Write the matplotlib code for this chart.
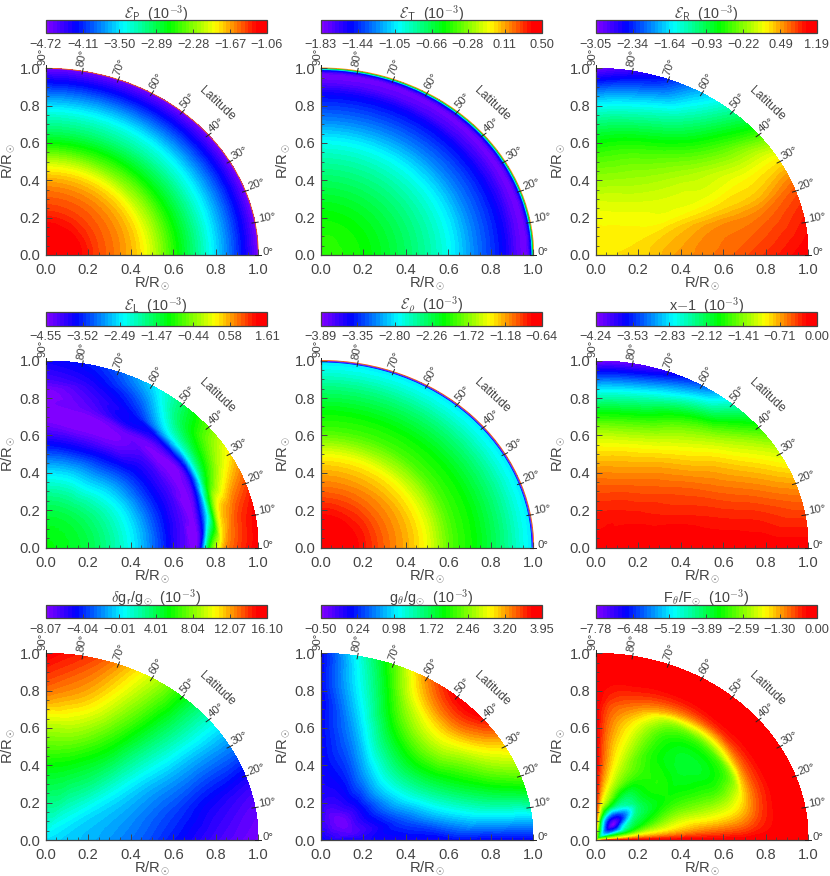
import numpy as np
import matplotlib
matplotlib.use('Agg')
import matplotlib.pyplot as plt
import matplotlib.tri as mtri
from matplotlib.cm import ScalarMappable
from matplotlib.colors import BoundaryNorm, LinearSegmentedColormap
from matplotlib.patches import Arc
from matplotlib.ticker import MultipleLocator

plt.rcParams['font.family'] = ['Liberation Sans', 'DejaVu Sans']
plt.rcParams['mathtext.fontset'] = 'cm'

# values, in units of 10^-3 (rows = latitude, columns = radius)
ep_title = r'$\mathcal{E}_{\mathsf{P}}$  (10$^{-3}$)'
ep_ticks = [-4.72, -4.11, -3.50, -2.89, -2.28, -1.67, -1.06]
ep_r = [0, .15, .25, .35, .45, .62, .78, .93, 1]
ep_lat = [0, 90]
ep_vals = [[-1.17, -1.21, -1.43, -1.61, -1.87, -2.67, -3.44, -4.24, -4.68],
           [-1.17, -1.21, -1.39, -1.57, -1.87, -2.78, -3.44, -4.24, -4.65]]
ep_rim = [(1.0, -1.5)]

et_title = r'$\mathcal{E}_{\mathsf{T}}$  (10$^{-3}$)'
et_ticks = [-1.83, -1.44, -1.05, -0.66, -0.28, 0.11, 0.50]
et_r = [0, .2, .4, .6, .72, .86, .95, .98, 1]
et_lat = [0, 90]
et_vals = [[-.43, -.52, -.71, -.99, -1.25, -1.53, -1.76, -1.69, -1.30],
           [-.43, -.52, -.71, -.99, -1.25, -1.53, -1.76, -1.69, -1.30]]
et_rim = [(.994, -1.01), (.998, -.52), (1.002, .15)]

er_title = r'$\mathcal{E}_{\mathsf{R}}$  (10$^{-3}$)'
er_ticks = [-3.05, -2.34, -1.64, -0.93, -0.22, 0.49, 1.19]
er_r = [0, .2, .4, .6, .8, 1]
er_lat = [0, 15, 22, 30, 45, 60, 75, 90]
er_vals = [[.26, .30, .51, .66, .85, 1.06],
           [.26, .28, .41, .55, .62, .85],
           [.26, .26, .32, .34, .38, .66],
           [.26, .24, .17, .14, .19, .26],
           [.26, .21, .07, -.08, -.42, -.85],
           [.26, .19, -.04, -.38, -1.06, -1.78],
           [.26, .17, -.12, -.55, -1.40, -2.58],
           [.26, .17, -.17, -.68, -1.57, -2.97]]
er_rim = []

el_title = r'$\mathcal{E}_{\mathsf{L}}$  (10$^{-3}$)'
el_ticks = [-4.55, -3.52, -2.49, -1.47, -0.44, 0.58, 1.61]
el_r = [0, .2, .4, .55, .65, .72, .77, .83, .9, 1]
el_lat = [0, 15, 30, 45, 60, 75, 90]
el_vals = [[-1.10, -1.47, -2.39, -3.50, -4.24, -4.24, -1.16, .38, .99, 1.43],
           [-1.10, -1.47, -2.39, -3.50, -4.18, -4.43, -3.00, -.11, .69, 1.24],
           [-1.10, -1.47, -2.39, -3.50, -4.12, -4.49, -4.06, -1.80, -.61, .25],
           [-1.10, -1.47, -2.46, -3.50, -4.06, -4.49, -4.06, -2.52, -1.59, -1.10],
           [-1.10, -1.47, -2.58, -3.69, -4.43, -4.37, -3.81, -3.63, -3.19, -2.58],
           [-1.10, -1.47, -2.52, -3.75, -4.49, -4.55, -4.30, -4.12, -3.87, -3.50],
           [-1.10, -1.47, -2.52, -3.69, -4.37, -4.55, -4.49, -4.55, -4.18, -3.81]]
el_rim = []

erho_title = r'$\mathcal{E}_{\rho}$  (10$^{-3}$)'
erho_ticks = [-3.89, -3.35, -2.80, -2.26, -1.72, -1.18, -0.64]
erho_r = [0, .15, .3, .48, .62, .72, .85, .95, 1]
erho_lat = [0, 90]
erho_vals = [[-.74, -.77, -1.03, -1.39, -1.88, -2.07, -2.39, -2.69, -2.82],
             [-.74, -.77, -1.03, -1.39, -1.88, -2.07, -2.39, -2.69, -2.82]]
erho_rim = [(.994, -3.47), (.998, -3.85), (1.002, -.97)]

x1_title = r'x$-$1  (10$^{-3}$)'
x1_ticks = [-4.24, -3.53, -2.83, -2.12, -1.41, -0.71, 0.00]
x1_r = [0, .2, .4, .6, .8, 1]
x1_lat = [0, 15, 30, 45, 60, 75, 90]
x1_vals = [[-.17, -.13, -.13, -.13, -.13, -.13],
           [-.17, -.15, -.19, -.28, -.38, -.53],
           [-.17, -.19, -.32, -.49, -.76, -1.14],
           [-.17, -.23, -.42, -.74, -1.23, -2.12],
           [-.17, -.25, -.53, -.98, -1.78, -3.31],
           [-.17, -.28, -.61, -1.17, -2.29, -3.99],
           [-.17, -.30, -.64, -1.23, -2.46, -4.20]]
x1_rim = []

dg_title = r'$\delta$g$_{\mathsf{r}}$/g$_{\odot}$  (10$^{-3}$)'
dg_ticks = [-8.07, -4.04, -0.01, 4.01, 8.04, 12.07, 16.10]
dg_r = [0, .2, .4, .6, .8, 1]
dg_lat = [0, 15, 30, 45, 60, 75, 90]
dg_vals = [[-.09, -1.06, -2.51, -4.44, -6.38, -7.83],
           [-.09, -.82, -1.79, -3.24, -4.93, -6.38],
           [-.09, -.34, -.58, -1.06, -1.54, -2.03],
           [-.09, .63, 1.60, 2.32, 3.05, 3.29],
           [-.09, 1.60, 3.77, 5.95, 7.88, 9.33],
           [-.09, 2.56, 4.98, 8.37, 11.51, 13.44],
           [-.09, 2.81, 5.47, 8.85, 12.96, 15.37]]
dg_rim = []

gt_title = r'g$_{\theta}$/g$_{\odot}$  (10$^{-3}$)'
gt_ticks = [-0.50, 0.24, 0.98, 1.72, 2.46, 3.20, 3.95]
gt_r = [0, .14, .2, .4, .6, .8, .9, 1]
gt_lat = [0, 15, 30, 45, 60, 75, 90]
gt_vals = [[.08, -.01, -.01, .03, .08, .08, .08, .08],
           [.08, -.28, -.19, .39, 1.01, 1.50, 1.68, 1.86],
           [.08, -.37, -.14, .79, 1.68, 2.39, 2.75, 3.02],
           [.08, -.41, -.19, .92, 1.95, 2.93, 3.42, 3.82],
           [.08, -.37, -.14, .66, 1.59, 2.48, 2.93, 3.28],
           [.08, -.28, -.14, .26, .70, 1.19, 1.41, 1.64],
           [.08, -.06, -.06, .03, .08, .08, .08, .08]]
gt_rim = []

ft_title = r'F$_{\theta}$/F$_{\odot}$  (10$^{-3}$)'
ft_ticks = [-7.78, -6.48, -5.19, -3.89, -2.59, -1.30, 0.00]
ft_r = [0, .05, .11, .15, .2, .28, .4, .55, .65, .72, .78, .83, .9, 1]
ft_lat = [0, 5, 15, 30, 45, 60, 75, 85, 90]
ft_vals = [[-2.33, -.78, -.54, -.39, -.31, -.23, -.23, -.23, -.23, -.23, -.23, -.23, -.23, -.23],
           [-2.33, -1.95, -1.71, -1.56, -1.40, -1.32, -1.17, -1.01, -.93, -.78, -.54, -.39, -.23, -.23],
           [-2.33, -2.96, -3.50, -3.50, -3.11, -2.65, -2.18, -2.18, -2.02, -1.56, -.93, -.54, -.23, -.23],
           [-2.33, -5.06, -6.22, -5.21, -4.28, -3.73, -3.27, -3.35, -3.35, -2.80, -1.24, -.62, -.23, -.23],
           [-2.33, -5.45, -7.70, -7.16, -5.84, -4.05, -3.27, -3.66, -3.58, -2.96, -1.56, -.62, -.23, -.23],
           [-2.33, -4.67, -6.61, -6.22, -4.67, -3.89, -3.11, -3.27, -3.11, -2.49, -1.24, -.62, -.23, -.23],
           [-2.33, -3.11, -4.28, -3.73, -2.72, -2.33, -2.10, -1.95, -1.71, -1.24, -.78, -.47, -.23, -.23],
           [-2.33, -1.95, -1.79, -1.56, -1.40, -1.17, -1.01, -1.01, -.93, -.78, -.54, -.39, -.23, -.23],
           [-2.33, -.78, -.54, -.39, -.31, -.23, -.23, -.23, -.23, -.23, -.23, -.23, -.23, -.23]]
ft_rim = []

lat_ticks = [0, 10, 20, 30, 40, 50, 60, 70, 80, 90]

panels = [
    (ep_title, ep_ticks, ep_r, ep_lat, ep_vals, ep_rim),
    (et_title, et_ticks, et_r, et_lat, et_vals, et_rim),
    (er_title, er_ticks, er_r, er_lat, er_vals, er_rim),
    (el_title, el_ticks, el_r, el_lat, el_vals, el_rim),
    (erho_title, erho_ticks, erho_r, erho_lat, erho_vals, erho_rim),
    (x1_title, x1_ticks, x1_r, x1_lat, x1_vals, x1_rim),
    (dg_title, dg_ticks, dg_r, dg_lat, dg_vals, dg_rim),
    (gt_title, gt_ticks, gt_r, gt_lat, gt_vals, gt_rim),
    (ft_title, ft_ticks, ft_r, ft_lat, ft_vals, ft_rim),
]

W, H = 830, 876
DARK = '#444444'
N_COL = 60

# IDL-style rainbow
rainbow = LinearSegmentedColormap.from_list('idl_rainbow', [
    (0, '#8000ff'), (.13, '#0000ff'), (.35, '#00ffff'), (.56, '#00ff00'),
    (.77, '#ffff00'), (.96, '#ff0000'), (1, '#ff0000')], N=N_COL)


def px_axes(fig, left, right, top, bottom):
    return fig.add_axes([left / W, 1 - bottom / H, (right - left) / W, (bottom - top) / H])


def draw_panel(fig, col, row, title, ticks, r, lat, vals, rim):
    left = [45.7, 320.7, 595.7][col]
    top = [68.3, 360.8, 653.3][row]
    bottom = top + 186.7
    lo, hi = ticks[0], ticks[-1]
    levels = np.linspace(lo, hi, N_COL + 1)
    norm = BoundaryNorm(levels, N_COL)

    ax = px_axes(fig, left, left + 212.6, top, bottom)
    # smooth in (r, latitude) so that circles stay circles, then map to x, y
    rr, ll = np.meshgrid(r, np.array(lat) / 90.0)
    base = mtri.Triangulation(rr.ravel(), ll.ravel())
    z = np.array(vals, dtype=float).ravel()
    refiner = mtri.UniformTriRefiner(base)
    fine, fine_z = refiner.refine_field(z, mtri.CubicTriInterpolator(base, z, kind='geom'), subdiv=4)
    ang = np.radians(fine.y * 90.0)
    shown = mtri.Triangulation(fine.x * np.cos(ang), fine.x * np.sin(ang), fine.triangles)
    ax.tricontourf(shown, np.clip(fine_z, lo + 1e-6, hi - 1e-6), levels=levels, cmap=rainbow, norm=norm)

    for rim_r, rim_v in rim:
        ax.add_patch(Arc((0, 0), 2 * rim_r, 2 * rim_r, theta1=0, theta2=90, lw=0.6,
                         color=rainbow(norm(rim_v)), clip_on=False))

    # axes
    ax.set_xlim(0, 1)
    ax.set_ylim(0, 1)
    ax.patch.set_visible(False)
    for side in ['top', 'right']:
        ax.spines[side].set_visible(False)
    for side in ['left', 'bottom']:
        ax.spines[side].set_color(DARK)
        ax.spines[side].set_linewidth(0.9)
    ax.xaxis.set_major_locator(MultipleLocator(.2))
    ax.yaxis.set_major_locator(MultipleLocator(.2))
    ax.xaxis.set_minor_locator(MultipleLocator(.05))
    ax.yaxis.set_minor_locator(MultipleLocator(.05))
    ax.tick_params(which='major', direction='in', length=4.5, width=0.7, color=DARK,
                   labelsize=10.6, labelcolor=DARK)
    ax.tick_params(which='minor', direction='in', length=2.2, width=0.6, color=DARK)
    ax.tick_params(axis='x', which='major', pad=6)
    ax.tick_params(axis='y', which='major', pad=4)
    ax.xaxis.set_major_formatter('{x:.1f}')
    ax.yaxis.set_major_formatter('{x:.1f}')
    ylabels = ax.get_yticklabels()
    ylabels[0].set_va('bottom')
    ylabels[-1].set_va('top')
    ax.set_xlabel(r'R/R$_{\odot}$', fontsize=10.6, color=DARK)
    ax.set_ylabel(r'R/R$_{\odot}$', fontsize=10.6, color=DARK)
    ax.xaxis.set_label_coords(.5, -.105)
    ax.yaxis.set_label_coords(-.135, .5)

    # latitude scale round the rim
    for la in lat_ticks:
        a = np.radians(la)
        ax.plot([.985 * np.cos(a), 1.015 * np.cos(a)], [.985 * np.sin(a), 1.015 * np.sin(a)],
                color='#222222', lw=0.7, clip_on=False, zorder=5)
        ax.text(1.02 * np.cos(a), 1.02 * np.sin(a), f'{la}\N{DEGREE SIGN}', rotation=la, rotation_mode='anchor',
                ha='left', va='baseline', fontsize=8.2, color=DARK)
    ax.text(.804, .8125, 'Latitude', rotation=-43, ha='center', va='center', fontsize=8.8,
            color=DARK)

    # colour bar
    bar_top = top - 48.3
    cax = px_axes(fig, left, left + 221.2, bar_top, bar_top + 13.4)
    cb = fig.colorbar(ScalarMappable(norm=norm, cmap=rainbow), cax=cax, orientation='horizontal',
                      ticks=ticks, spacing='proportional')
    cb.ax.minorticks_off()
    cb.outline.set_edgecolor(DARK)
    cb.outline.set_linewidth(0.9)
    cb.ax.set_xticklabels([f'{t:.2f}'.replace('-', '\u2212') for t in ticks])
    cb.ax.tick_params(direction='in', length=3, width=0.7, color=DARK, labelsize=9.2,
                      labelcolor=DARK, pad=4)
    cb.ax.text(.5, 1.5, title, transform=cb.ax.transAxes, ha='center', va='center',
               fontsize=10.4, color=DARK)


fig = plt.figure(figsize=(W / 100, H / 100), dpi=100)
for i, (title, ticks, r, lat, vals, rim) in enumerate(panels):
    draw_panel(fig, i % 3, i // 3, title, ticks, r, lat, vals, rim)

fig.savefig('out.png', dpi=100)
